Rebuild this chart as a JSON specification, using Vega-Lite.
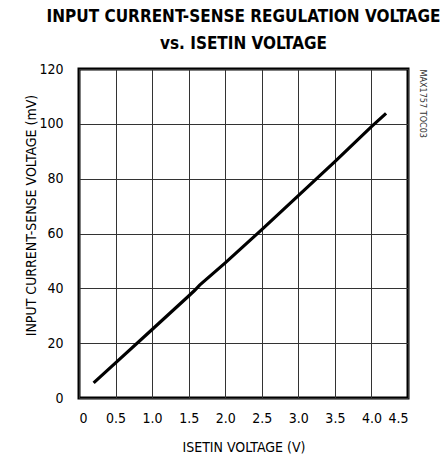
{
  "$schema": "https://vega.github.io/schema/vega-lite/v6.json",
  "width": 329,
  "height": 329,
  "autosize": {"type": "none"},
  "padding": {"left": 79, "top": 69, "right": 33, "bottom": 62},
  "background": "white",
  "title": {
    "text": ["INPUT CURRENT-SENSE REGULATION VOLTAGE", "vs. ISETIN VOLTAGE"],
    "font": "DejaVu Sans Condensed",
    "fontWeight": "bold",
    "fontSize": 17,
    "lineHeight": 27,
    "color": "black",
    "anchor": "middle",
    "offset": 9
  },
  "data": {
    "values": [
      {"v": 0.2, "mv": 5.5},
      {"v": 0.5, "mv": 12.8},
      {"v": 1.0, "mv": 25.0},
      {"v": 1.5, "mv": 37.2},
      {"v": 1.58, "mv": 39.2},
      {"v": 1.65, "mv": 41.2},
      {"v": 2.0, "mv": 49.3},
      {"v": 2.5, "mv": 61.4},
      {"v": 3.0, "mv": 73.8},
      {"v": 3.5, "mv": 86.2},
      {"v": 4.0, "mv": 99.0},
      {"v": 4.2, "mv": 103.8}
    ]
  },
  "encoding": {
    "x": {
      "field": "v", "type": "quantitative",
      "scale": {"domain": [0, 4.5], "nice": false, "zero": false},
      "axis": {
        "values": [0, 0.5, 1, 1.5, 2, 2.5, 3, 3.5, 4, 4.5],
        "labelExpr": "datum.value == 0 ? '0' : format(datum.value, '.1f')",
        "labelOverlap": false,
        "labelPadding": 13,
        "title": "ISETIN VOLTAGE (V)",
        "titlePadding": 15
      }
    }
  },
  "layer": [
    {
      "mark": {"type": "line", "color": "black", "strokeWidth": 3.2, "clip": true},
      "encoding": {
        "y": {
          "field": "mv", "type": "quantitative",
          "scale": {"domain": [0, 120], "nice": false},
          "axis": {
            "values": [0, 20, 40, 60, 80, 100, 120],
            "labelOverlap": false,
            "title": "INPUT CURRENT-SENSE VOLTAGE (mV)",
            "titleX": -48,
            "titleY": 146,
            "titleBaseline": "middle",
            "titleAlign": "center",
            "labelPadding": 16
          }
        }
      }
    },
    {
      "mark": {"type": "line", "opacity": 0},
      "encoding": {
        "y": {
          "field": "mv", "type": "quantitative",
          "axis": {
            "orient": "right",
            "title": "MAX1757 TOC03",
            "labels": false,
            "ticks": false,
            "grid": false,
            "domain": false,
            "titleAngle": 90,
            "titleFont": "DejaVu Sans Condensed",
            "titleFontSize": 9,
            "titleFontWeight": "normal",
            "titleColor": "#333",
            "titleX": 14,
            "titleY": 0,
            "titleAlign": "left",
            "titleBaseline": "middle"
          }
        }
      }
    }
  ],
  "resolve": {"axis": {"y": "independent"}},
  "config": {
    "view": {"stroke": "black", "strokeWidth": 3},
    "axis": {
      "domain": false,
      "ticks": false,
      "grid": true,
      "gridColor": "#333",
      "gridWidth": 1,
      "gridOpacity": 1,
      "labelFont": "DejaVu Sans Condensed",
      "labelFontSize": 14,
      "labelColor": "black",
      "labelPadding": 12,
      "titleFont": "DejaVu Sans Condensed",
      "titleFontSize": 14,
      "titleFontWeight": "normal",
      "titleColor": "black"
    }
  }
}
